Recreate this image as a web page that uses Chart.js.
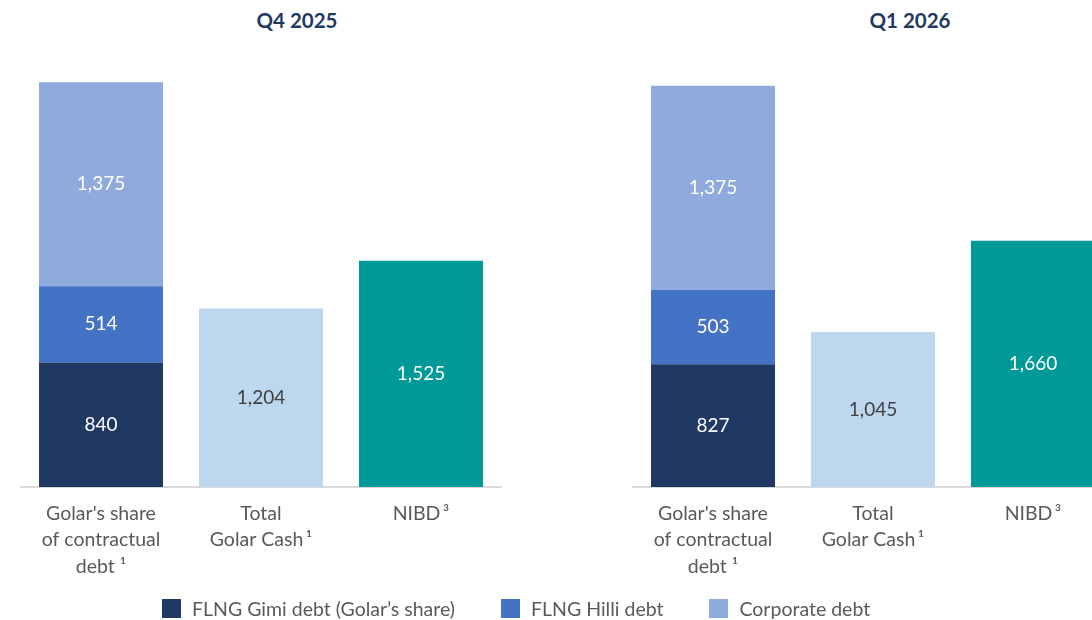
<!DOCTYPE html>
<html>
<head>
<meta charset="utf-8">
<script src="https://cdn.jsdelivr.net/npm/chart.js@4.4.0/dist/chart.umd.min.js"></script>
<style>
  body { margin: 0; background: #fff; font-family: Lato, "Open Sans", sans-serif; }
  #wrap { position: relative; width: 1092px; height: 620px; overflow: hidden; }
  canvas { position: absolute; top: 0; }
  .ttl { position: absolute; top: 8px; width: 200px; text-align: center; font-weight: bold; font-size: 20.5px; color: #1f3864; }
  #legend { position: absolute; top: 597px; left: 162px; display: flex; font-size: 19.5px; color: #595959; white-space: nowrap; }
  .item { display: flex; align-items: center; margin-right: 46px; }
  .box { width: 19px; height: 19px; margin-right: 11px; }
</style>
</head>
<body>
<div id="wrap">
  <div class="ttl" id="t0" style="left:197px"></div>
  <div class="ttl" id="t1" style="left:810px"></div>
  <canvas id="c0" width="546" height="600" style="left:0"></canvas>
  <canvas id="c1" width="600" height="600" style="left:546px"></canvas>
  <div id="legend"></div>
</div>
<script>
// Values (USD millions)
const periods = ['Q4 2025', 'Q1 2026'];
const categories = [
    ["Golar's share", 'of contractual', 'debt \u00b9'],
    ['Total', 'Golar Cash\u2009\u00b9'],
    ['NIBD\u2009\u00b3']
];
const gimiDebt = [840, 827];
const hilliDebt = [514, 503];
const corporateDebt = [1375, 1375];
const golarCash = [1204, 1045];
const nibd = [1525, 1660];

const legendNames = ['FLNG Gimi debt (Golar\u2019s share)', 'FLNG Hilli debt', 'Corporate debt'];

// styling
const colors = {
    gimi: '#203864',
    hilli: '#4472c4',
    corporate: '#8faadc',
    cash: '#bdd7ee',
    nibd: '#009999'
};

// draws the value in the middle of each bar segment
const valueLabels = {
    id: 'valueLabels',
    afterDatasetsDraw(chart) {
        const ctx = chart.ctx;
        ctx.save();
        ctx.font = '19px Lato';
        ctx.textAlign = 'center';
        ctx.textBaseline = 'middle';
        chart.data.datasets.forEach((ds, i) => {
            chart.getDatasetMeta(i).data.forEach((bar, j) => {
                const v = ds.data[j];
                if (v == null) return;
                ctx.fillStyle = ds.labelColor;
                ctx.fillText(v.toLocaleString('en-US'), bar.x, (bar.y + bar.base) / 2);
            });
        });
        ctx.restore();
    }
};

function makeChart(id, p, padLeft, padRight) {
    document.getElementById('t' + p).textContent = periods[p];
    return new Chart(document.getElementById(id), {
        type: 'bar',
        data: {
            labels: categories,
            datasets: [
                { label: legendNames[0], data: [gimiDebt[p], null, null], backgroundColor: colors.gimi, labelColor: '#ffffff' },
                { label: legendNames[1], data: [hilliDebt[p], null, null], backgroundColor: colors.hilli, labelColor: '#ffffff' },
                { label: legendNames[2], data: [corporateDebt[p], null, null], backgroundColor: colors.corporate, labelColor: '#ffffff' },
                { label: 'Total Golar Cash', data: [null, golarCash[p], null], backgroundColor: colors.cash, labelColor: '#404040' },
                { label: 'NIBD', data: [null, null, nibd[p]], backgroundColor: colors.nibd, labelColor: '#ffffff' }
            ]
        },
        options: {
            responsive: false,
            animation: false,
            barPercentage: 0.775,
            categoryPercentage: 1,
            layout: { padding: { left: padLeft, right: padRight, top: 42, bottom: 0 } },
            plugins: {
                legend: { display: false },
                tooltip: { enabled: false }
            },
            scales: {
                x: {
                    stacked: true,
                    grid: { display: false, drawTicks: false },
                    border: { display: true, color: '#d9d9d9', width: 2 },
                    ticks: {
                        color: '#595959',
                        padding: 14,
                        maxRotation: 0,
                        autoSkip: false,
                        font: { family: 'Lato', size: 19.5, lineHeight: 1.34 }
                    },
                    afterFit(scale) { scale.height = 113; }
                },
                y: {
                    stacked: true,
                    display: false,
                    min: 0,
                    max: 3000
                }
            }
        },
        plugins: [valueLabels]
    });
}

makeChart('c0', 0, 21, 45);
makeChart('c1', 1, 87, 33);

// legend under both panels
const legend = document.getElementById('legend');
[colors.gimi, colors.hilli, colors.corporate].forEach((c, i) => {
    const item = document.createElement('div');
    item.className = 'item';
    item.innerHTML = '<span class="box" style="background:' + c + '"></span><span>' + legendNames[i] + '</span>';
    legend.appendChild(item);
});
</script>
</body>
</html>
